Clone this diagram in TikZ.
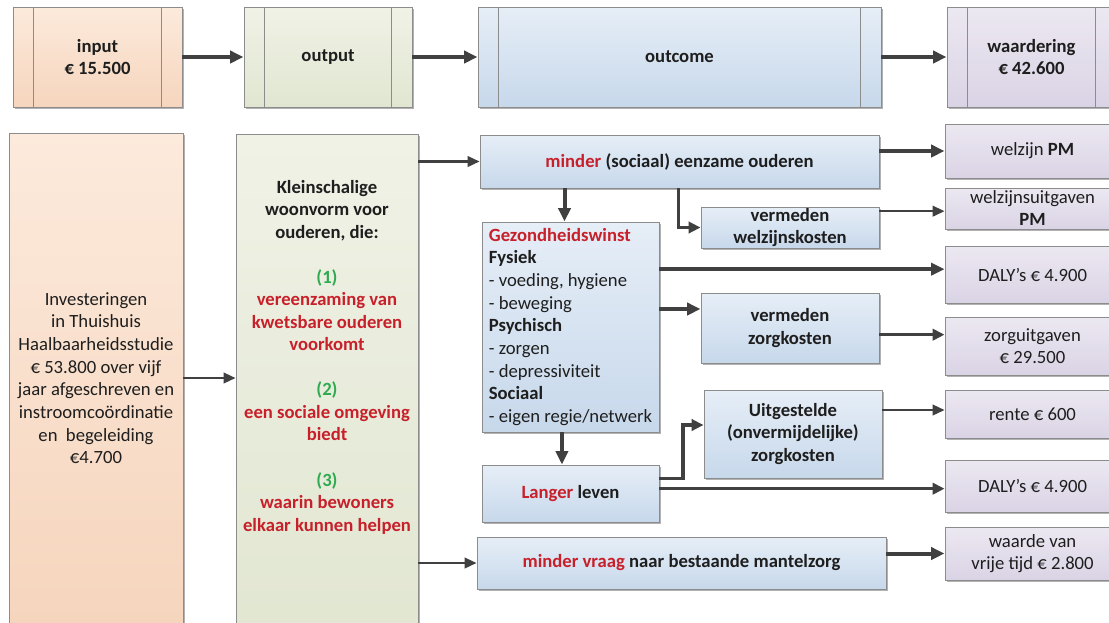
\documentclass[tikz,border=0pt]{standalone}
\usepackage{fontspec}
\setmainfont{Carlito}
\usetikzlibrary{arrows.meta,shadows,calc}
\definecolor{arr}{HTML}{404040}
\definecolor{bord}{HTML}{8C8C8C}
\definecolor{txt}{HTML}{1E1E1E}
\definecolor{redt}{HTML}{C8202A}
\definecolor{greent}{HTML}{2EAA50}
\definecolor{peachT}{HTML}{FCEADC}
\definecolor{peachB}{HTML}{F6D5BD}
\definecolor{greenT}{HTML}{F0F2E6}
\definecolor{greenB}{HTML}{E1E6D1}
\definecolor{blueT}{HTML}{E6EEF7}
\definecolor{blueB}{HTML}{C7D8EB}
\definecolor{lilT}{HTML}{ECE8F1}
\definecolor{lilB}{HTML}{DAD3E5}
\tikzset{
  rect/.style args={#1/#2/#3/#4}{minimum width={(#3-#1)*0.75pt}, minimum height={(#4-#2)*0.75pt},
    at={({(#1+#3)/2},{(#2+#4)/2})}},
  box/.style={draw=bord, line width=0.7pt, inner sep=0pt, align=center, text=txt,
    font=\fontsize{14}{17}\selectfont\bfseries,
    drop shadow={shadow xshift=1.2pt, shadow yshift=-1.2pt, opacity=0.3, fill=black}},
  peach/.style={box, top color=peachT, bottom color=peachB},
  greenbox/.style={box, top color=greenT, bottom color=greenB},
  bluebox/.style={box, top color=blueT, bottom color=blueB},
  lilbox/.style={box, top color=lilT, bottom color=lilB, font=\fontsize{14}{16.5}\selectfont},
  innerline/.style={draw=bord, line width=0.7pt},
  thk/.style={draw=arr, line width=3pt, -{Triangle[length=10pt,width=9pt]}},
  med/.style={draw=arr, line width=2.3pt, -{Triangle[length=9pt,width=8.5pt]}},
  thn/.style={draw=arr, line width=1.6pt, -{Triangle[length=9pt,width=8pt]}},
}
\begin{document}
\begin{tikzpicture}[x=0.75pt,y=-0.75pt]
\useasboundingbox (0,0) rectangle (1109,622);
\clip (0,0) rectangle (1109,622);
\fill[white] (0,0) rectangle (1109,622);

% top row
\node[peach, rect=13/7/182/107] (input) {input\\€ 15.500};
\node[greenbox, rect=244/7/412/107] (output) {output};
\node[bluebox, rect=478/7/881/107] (outcome) {outcome};
\node[lilbox, font=\fontsize{14}{17}\selectfont\bfseries, rect=947/7/1116/107] (waard) {waardering\\€ 42.600};
\foreach \n in {input,output,outcome,waard}{
  \draw[innerline] ([xshift=15.5pt]\n.north west) -- ([xshift=15.5pt]\n.south west);
  \draw[innerline] ([xshift=-15.5pt]\n.north east) -- ([xshift=-15.5pt]\n.south east);
}
\draw[thk] (input.east) -- (output.west);
\draw[thk] (output.east) -- (outcome.west);
\draw[thk] (outcome.east) -- (waard.west);

% left columns
\node[peach, font=\fontsize{14}{17}\selectfont, rect=9/133/183/623] (invest)
  {Investeringen\\in Thuishuis\\Haalbaarheidsstudie\\€ 53.800 over vijf\\jaar afgeschreven en\\instroomcoördinatie\\en\ \ begeleiding\\€4.700};
\node[greenbox, rect=236/134/418/640] (klein) {};
\node[align=center, text=txt, font=\fontsize{14}{16.9}\selectfont\bfseries] (kleintxt) at (327,357)
  {Kleinschalige\\woonvorm voor\\ouderen, die:\\[16.9pt]
   {\color{greent}(1)}\\{\color{redt}vereenzaming van}\\{\color{redt}kwetsbare ouderen}\\{\color{redt}voorkomt}\\[16.9pt]
   {\color{greent}(2)}\\{\color{redt}een sociale omgeving}\\{\color{redt}biedt}\\[16.9pt]
   {\color{greent}(3)}\\{\color{redt}waarin bewoners}\\{\color{redt}elkaar kunnen helpen}};

% middle column
\node[bluebox, rect=480/135/879/188] (minder) {{\color{redt}minder} (sociaal) eenzame ouderen};
\node[bluebox, align=left, rect=482/222/659/432] (gezond)
  {{\color{redt}Gezondheidswinst}\\Fysiek\\{\mdseries - voeding, hygiene}\\{\mdseries - beweging}\\Psychisch\\{\mdseries - zorgen}\\{\mdseries - depressiviteit}\\Sociaal\\{\mdseries - eigen regie/netwerk}};
\node[bluebox, font=\fontsize{14}{16.5}\selectfont\bfseries, rect=701/207/879/248] (welzkost) {vermeden\\welzijnskosten};
\node[bluebox, rect=701/293/879/363] (zorgkost) {vermeden\\zorgkosten};
\node[bluebox, rect=704/390/882/478] (uitgest) {Uitgestelde\\(onvermijdelijke)\\zorgkosten};
\node[bluebox, rect=482/465/659/522] (langer) {{\color{redt}Langer} leven};
\node[bluebox, rect=477/537/886/589] (vraag) {{\color{redt}minder vraag} naar bestaande mantelzorg};

% right column
\node[lilbox, rect=945/124/1120/178] (welzijn) {welzijn \textbf{PM}};
\node[lilbox, rect=945/188/1120/229] (welzuit) {welzijnsuitgaven\\\textbf{PM}};
\node[lilbox, rect=945/246/1120/303] (daly1) {DALY’s € 4.900};
\node[lilbox, rect=945/317/1120/375] (zorguit) {zorguitgaven\\€ 29.500};
\node[lilbox, rect=945/390/1120/438] (rente) {rente € 600};
\node[lilbox, rect=945/460/1120/512] (daly2) {DALY’s € 4.900};
\node[lilbox, rect=945/527/1120/580] (waarde) {waarde van\\vrije tijd € 2.800};

% connectors
\draw[thn] (invest.east) -- (klein.west |- invest.east);
\draw[thn] (klein.east |- minder.west) -- (minder.west);
\draw[thn] (klein.east |- vraag.west) -- (vraag.west);

\draw[thk] (minder.east |- welzijn.west) -- (welzijn.west);
\draw[thk] ([xshift=-4.5pt]gezond.north |- minder.south) -- ([xshift=-4.5pt]gezond.north);
\coordinate (mb) at ([xshift=-1pt]minder.south);
\draw[med] (mb) |- (welzkost.west);
\coordinate (wu) at ([yshift=-2pt]welzuit.west);
\draw[thn] (welzkost.east |- wu) -- (wu);

\coordinate (d1) at ([yshift=4pt]daly1.west);
\draw[thk] (gezond.east |- d1) -- (d1);
\coordinate (zk) at ([yshift=14.25pt]zorgkost.west);
\draw[thk] (gezond.east |- zk) -- (zk);
\coordinate (zu) at ([yshift=8.5pt]zorguit.west);
\draw[med] (zorgkost.east |- zu) -- (zu);

\draw[thk] ([xshift=-6.4pt]gezond.south) -- ([xshift=-6.4pt]langer.north);
\coordinate (l1) at ([yshift=11.6pt]langer.east);
\coordinate (u1) at ([yshift=6.75pt]uitgest.west);
\coordinate (jx) at (683,0);
\draw[med] (l1) -- (l1 -| jx) -- (jx |- u1) -- (u1);
\coordinate (rt) at ([yshift=3pt]rente.west);
\draw[thn] (uitgest.east |- rt) -- (rt);
\coordinate (d2) at ([yshift=-2pt]daly2.west);
\draw[med] (langer.east |- d2) -- (d2);
\draw[thk] (vraag.east |- waarde.west) -- (waarde.west);
\end{tikzpicture}
\end{document}
